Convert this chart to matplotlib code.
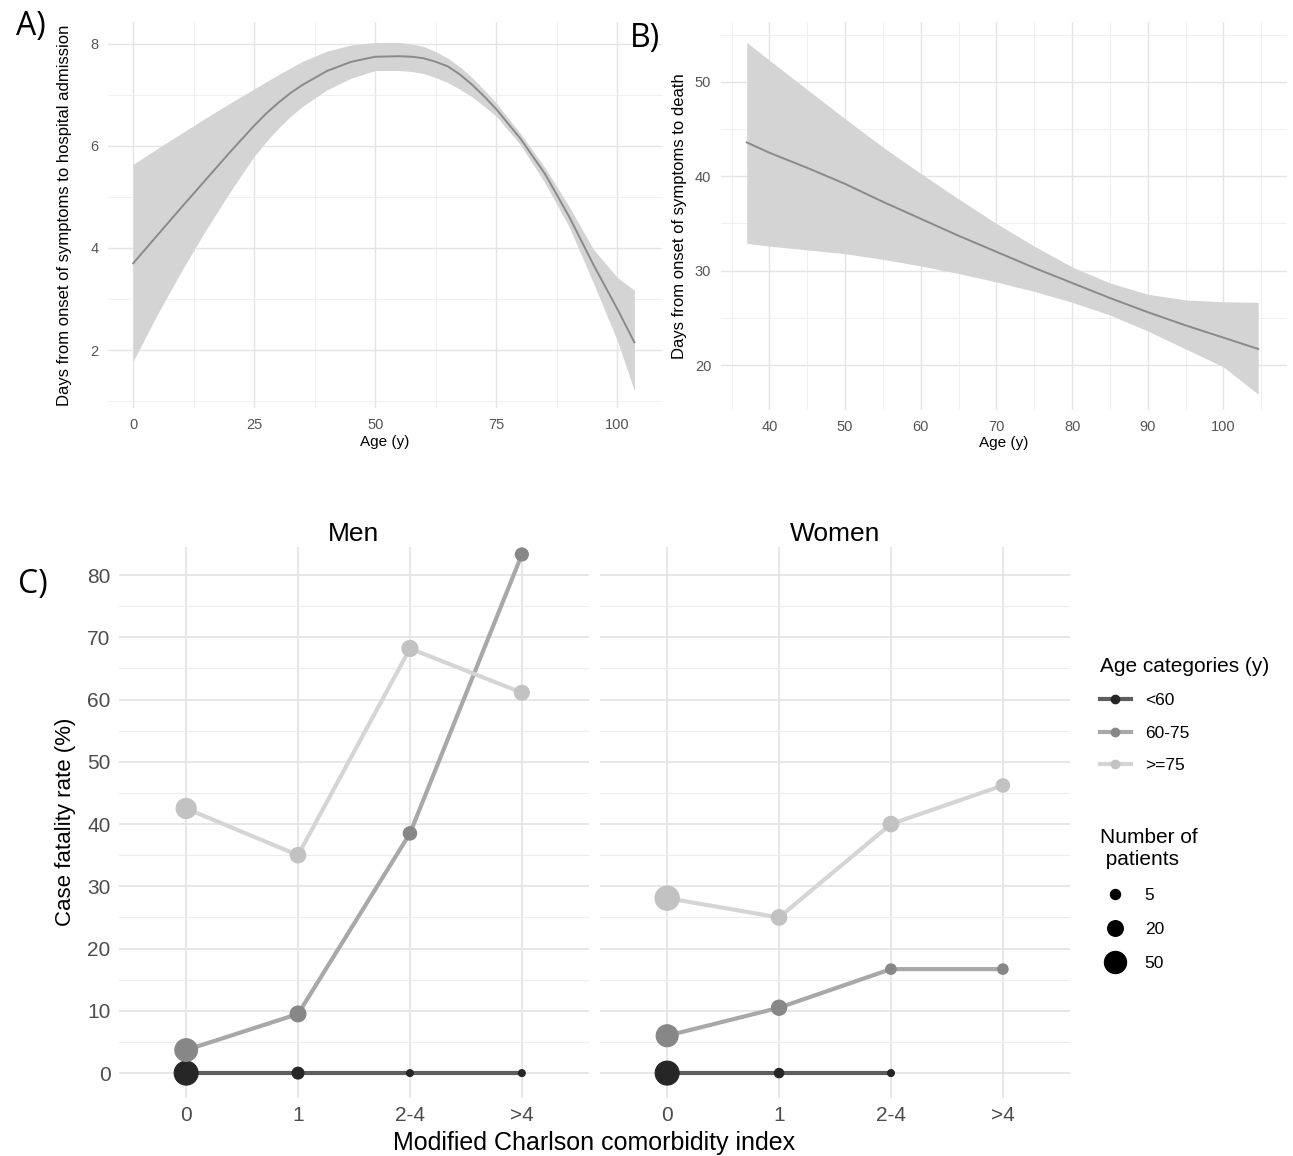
import matplotlib
matplotlib.use('Agg')
import matplotlib.pyplot as plt
from matplotlib.lines import Line2D
import numpy as np

# ---- panel A: days from onset to admission by age (smooth + CI)
a_age = [0, 5, 10, 15, 20, 25, 27.5, 30, 32.5, 35, 40, 45, 50, 55, 57.5, 60, 62.5, 65, 67.5, 70, 72.5, 75, 80, 85, 90, 95, 100, 103.5]
a_fit = [3.70, 4.25, 4.80, 5.34, 5.88, 6.40, 6.64, 6.85, 7.04, 7.20, 7.47, 7.65, 7.75, 7.76, 7.75, 7.72, 7.65, 7.56, 7.40, 7.20, 6.97, 6.72, 6.14, 5.46, 4.62, 3.68, 2.80, 2.15]
a_hi = [5.64, 5.95, 6.25, 6.55, 6.84, 7.12, 7.26, 7.40, 7.53, 7.66, 7.86, 7.98, 8.03, 8.03, 8.00, 7.95, 7.85, 7.72, 7.55, 7.34, 7.10, 6.84, 6.24, 5.58, 4.82, 3.98, 3.42, 3.17]
a_lo = [1.78, 2.70, 3.55, 4.35, 5.10, 5.80, 6.09, 6.35, 6.58, 6.78, 7.10, 7.33, 7.48, 7.48, 7.46, 7.42, 7.34, 7.24, 7.11, 6.96, 6.78, 6.58, 6.02, 5.28, 4.42, 3.32, 2.18, 1.20]

# ---- panel B: days from onset to death by age
b_age = [37, 40, 45, 50, 55, 60, 65, 70, 75, 80, 85, 90, 95, 100, 104.6]
b_fit = [43.6, 42.5, 40.9, 39.2, 37.3, 35.5, 33.7, 32.0, 30.3, 28.7, 27.1, 25.6, 24.2, 22.9, 21.7]
b_hi = [54.2, 52.3, 49.2, 46.1, 43.1, 40.3, 37.6, 35.0, 32.6, 30.4, 28.7, 27.5, 26.9, 26.7, 26.65]
b_lo = [32.9, 32.6, 32.2, 31.8, 31.2, 30.5, 29.7, 28.8, 27.8, 26.65, 25.3, 23.6, 21.7, 19.8, 16.9]

# ---- panel C: case fatality rate by comorbidity index
cci = ['0', '1', '2-4', '>4']
age_cats = ['<60', '60-75', '>=75']
men_cfr = {'<60': [0, 0, 0, 0], '60-75': [3.7, 9.5, 38.5, 83.3], '>=75': [42.5, 35.0, 68.2, 61.1]}
men_n = {'<60': [62, 9, 1, 1], '60-75': [54, 21, 13, 12], '>=75': [40, 20, 22, 18]}
women_cfr = {'<60': [0, 0, 0], '60-75': [6.0, 10.5, 16.7, 16.7], '>=75': [28.1, 25.0, 40.0, 46.2]}
women_n = {'<60': [62, 4, 1], '60-75': [50, 19, 6, 6], '>=75': [64, 20, 20, 13]}
size_breaks = [5, 20, 50]

pt_col = {'<60': '#262626', '60-75': '#878787', '>=75': '#c2c2c2'}
ln_col = {'<60': '#5e5e5e', '60-75': '#a8a8a8', '>=75': '#d5d5d5'}

W, H = 1293, 1156
fig = plt.figure(figsize=(W / 100, H / 100), dpi=100)
plt.rcParams['font.family'] = ['Liberation Sans', 'DejaVu Sans']


def box(l, t, r, b):
    return [l / W, 1 - b / H, (r - l) / W, (b - t) / H]


def dot_px(n):
    return 4.45 + 2.48 * np.sqrt(n)


def style_small(ax):
    for s in ax.spines.values():
        s.set_visible(False)
    ax.grid(True, which='major', color='#e4e4e4', lw=1.0)
    ax.grid(True, which='minor', color='#efefef', lw=0.7)
    ax.set_axisbelow(True)
    ax.tick_params(which='both', length=0, labelsize=10.5, labelcolor='#555555', pad=7)


# A
axA = fig.add_axes(box(108, 22, 662, 408))
axA.fill_between(a_age, a_lo, a_hi, color='#d4d4d4', lw=0)
axA.plot(a_age, a_fit, color='#8a8a8a', lw=1.4)
axA.set_xlim(-5.2, 109.2)
axA.set_ylim(0.863, 8.431)
axA.set_xticks([0, 25, 50, 75, 100])
axA.set_xticks([12.5, 37.5, 62.5, 87.5], minor=True)
axA.set_yticks([2, 4, 6, 8])
axA.set_yticks([1, 3, 5, 7], minor=True)
style_small(axA)
axA.set_xlabel('Age (y)', fontsize=11, labelpad=2)
axA.set_ylabel('Days from onset of symptoms to hospital admission', fontsize=12, labelpad=13)

# B
axB = fig.add_axes(box(721, 22, 1287, 410))
axB.fill_between(b_age, b_lo, b_hi, color='#d4d4d4', lw=0)
axB.plot(b_age, b_fit, color='#8a8a8a', lw=1.4)
axB.set_xlim(33.6, 108.4)
axB.set_ylim(15.23, 56.36)
axB.set_xticks(range(40, 101, 10))
axB.set_xticks(range(35, 106, 10), minor=True)
axB.set_yticks([20, 30, 40, 50])
axB.set_yticks([25, 35, 45, 55], minor=True)
style_small(axB)
axB.set_xlabel('Age (y)', fontsize=11, labelpad=2)
axB.set_ylabel('Days from onset of symptoms to death', fontsize=12, labelpad=6)

# C facets
facets = [('Men', men_cfr, men_n, 119, 589), ('Women', women_cfr, women_n, 600, 1070)]
for i, (name, cfr, nn, l, r) in enumerate(facets):
    ax = fig.add_axes(box(l, 547, r, 1098))
    for cat in age_cats:
        y = cfr[cat]
        x = np.arange(len(y))
        ax.plot(x, y, color=ln_col[cat], lw=3.0, zorder=2)
        s = [(dot_px(n) * 0.72) ** 2 for n in nn[cat]]
        ax.scatter(x, y, s=s, color=pt_col[cat], edgecolor=pt_col[cat], lw=0.8, zorder=3)
    ax.set_xlim(-0.6, 3.6)
    ax.set_ylim(-4.0, 84.5)
    ax.set_xticks(range(4))
    ax.set_xticklabels(cci)
    ax.set_yticks(range(0, 81, 10))
    ax.set_yticks(range(5, 81, 10), minor=True)
    for s in ax.spines.values():
        s.set_visible(False)
    ax.grid(True, which='major', color='#e3e3e3', lw=1.2)
    ax.grid(True, which='minor', axis='y', color='#ececec', lw=0.8)
    ax.set_axisbelow(True)
    ax.tick_params(which='both', length=0, labelsize=15, labelcolor='#4d4d4d', pad=6)
    if i == 1:
        ax.tick_params(axis='y', labelleft=False)
    ax.set_title(name, fontsize=19, pad=4)

fig.text(594 / W, 1 - 1143 / H, 'Modified Charlson comorbidity index', fontsize=18,
         ha='center', va='center')
fig.text(66 / W, 1 - 822 / H, 'Case fatality rate (%)', fontsize=16,
         ha='center', va='center', rotation=90)

# legends
age_handles = [Line2D([], [], color=ln_col[c], lw=3, marker='o', markersize=6,
                      markerfacecolor=pt_col[c], markeredgecolor=pt_col[c]) for c in age_cats]
leg1 = fig.legend(age_handles, age_cats, loc='upper left', bbox_to_anchor=(1084 / W, 1 - 641 / H),
                  frameon=False, title='Age categories (y)', title_fontsize=15, fontsize=12.5,
                  handlelength=1.8, labelspacing=1.0, alignment='left', handletextpad=0.8)
size_handles = [Line2D([], [], lw=0, marker='o', color='black',
                       markersize=dot_px(n) * 0.72) for n in size_breaks]
leg2 = fig.legend(size_handles, [str(n) for n in size_breaks], loc='upper left',
                  bbox_to_anchor=(1084 / W, 1 - 812 / H), frameon=False,
                  title='Number of\n patients', title_fontsize=15, fontsize=12.5,
                  handlelength=1.8, labelspacing=1.1, alignment='left', handletextpad=0.8)

# panel letters
for lab, x, y in [('A)', 31, 27), ('B)', 645, 38), ('C)', 33, 585)]:
    fig.text(x / W, 1 - y / H, lab, fontsize=23, ha='center', va='center', family='Open Sans')

fig.savefig('out.png', dpi=100)
